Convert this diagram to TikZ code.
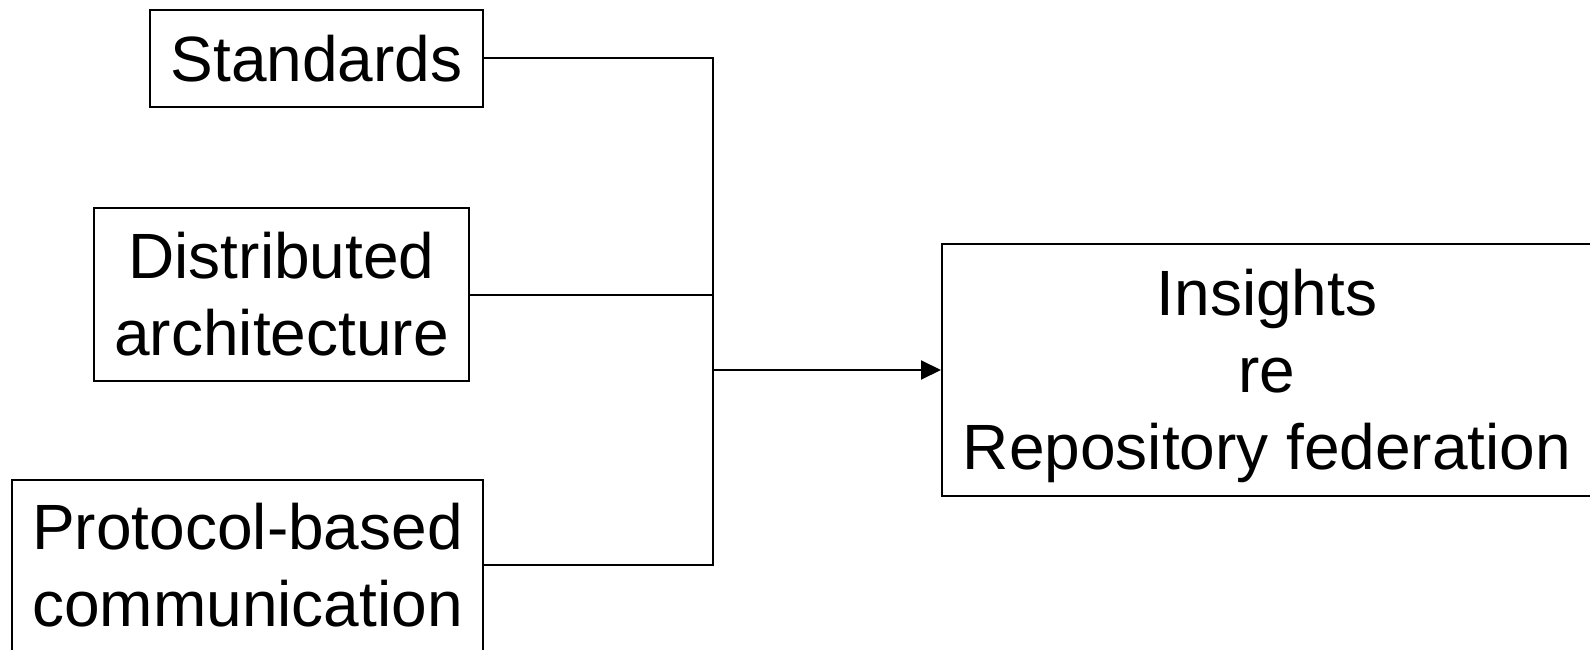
\documentclass[tikz,border=0pt]{standalone}
\usepackage{fontspec}
\setmainfont{Liberation Sans}
\usetikzlibrary{arrows.meta}
\begin{document}
\begin{tikzpicture}[x=1pt,y=-1pt,
  box/.style={draw=black,line width=2pt,rectangle,inner sep=0pt,align=center,
    font=\fontsize{64}{77}\selectfont},
  conn/.style={draw=black,line width=2pt}]
\useasboundingbox (0,0) rectangle (1590,650);
\node[box,minimum width=333pt,minimum height=97pt] (std) at (316.5,58.5) {Standards};
\node[box,minimum width=375pt,minimum height=173pt] (dist) at (281.5,294.5) {Distributed\\architecture};
\node[box,minimum width=471pt,minimum height=190pt,text depth=21pt] (proto) at (247.5,575) {Protocol-based\\communication};
\node[box,minimum width=650pt,minimum height=252pt,text depth=1pt] (ins) at (1267,370) {Insights\\re\\Repository federation};
\coordinate (j) at (713,370);
\draw[conn] (std.east) -| (j);
\draw[conn] (proto.east) ++(0,-10) -| (j);
\draw[conn] (dist.east) -- (dist.east -| j);
\draw[conn,-{Triangle[length=20pt,width=19pt]}] (j) -- (ins.west);
\end{tikzpicture}
\end{document}
